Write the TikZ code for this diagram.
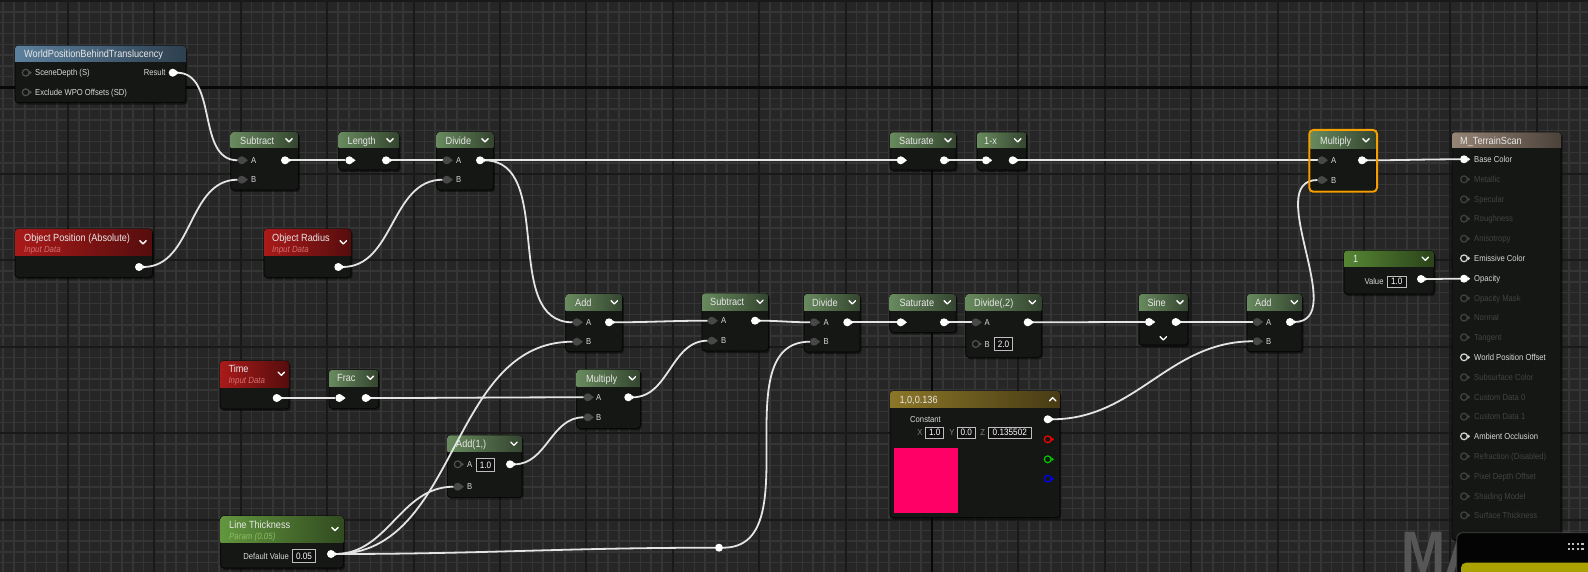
\documentclass[tikz,border=0pt]{standalone}
\usepackage{fontspec}
\setmainfont{Liberation Sans}[FakeStretch=0.88]
\usetikzlibrary{fit,shadows}
\pgfdeclarelayer{bg}
\pgfdeclarelayer{nodes}
\pgfdeclarelayer{wires}
\pgfsetlayers{bg,nodes,wires,main}
\definecolor{bgc}{RGB}{38,38,38}
\definecolor{minorc}{RGB}{53,53,53}
\definecolor{majorc}{RGB}{25,25,25}
\definecolor{axisc}{RGB}{8,8,8}
\definecolor{bodyc}{RGB}{21,23,21}
\definecolor{cMath}{RGB}{104,138,94}
\definecolor{cBlue}{RGB}{92,128,158}
\definecolor{cRed}{RGB}{170,26,26}
\definecolor{cParam}{RGB}{98,150,62}
\definecolor{cConst}{RGB}{86,134,52}
\definecolor{cGold}{RGB}{140,118,40}
\definecolor{cTerm}{RGB}{150,132,116}
\definecolor{wirec}{RGB}{228,228,228}
\definecolor{pinc}{RGB}{72,72,72}
\definecolor{ttlc}{RGB}{232,232,232}
\definecolor{labc}{RGB}{215,215,215}
\definecolor{dimc}{RGB}{80,80,80}
\definecolor{dimc2}{RGB}{66,66,66}
\definecolor{subRed}{RGB}{212,112,112}
\definecolor{subGrn}{RGB}{140,190,100}
\definecolor{selc}{RGB}{245,160,0}
\definecolor{swatch}{RGB}{255,0,102}
\definecolor{popc}{RGB}{4,4,4}
\definecolor{barc}{RGB}{170,162,0}
\definecolor{wmc}{RGB}{86,86,86}
\definecolor{boxc}{RGB}{190,190,190}
\definecolor{boxfill}{RGB}{14,15,14}
\definecolor{xyzc}{RGB}{130,130,130}
\tikzset{
  body/.style={fill=bodyc, draw=black, line width=0.6pt, rounded corners=3pt, inner sep=0pt,
    drop shadow={shadow xshift=1.5pt, shadow yshift=-2pt, opacity=0.45, fill=black}},
  ttl/.style={anchor=west, inner sep=0pt, text=ttlc, font=\fontsize{10.4}{12}\selectfont, text height=7.5pt, text depth=0pt},
  subt/.style={anchor=west, inner sep=0pt, font=\itshape\fontsize{9}{10}\selectfont, text height=6.4pt, text depth=0pt},
  plab/.style={anchor=west, inner sep=0pt, text=labc, font=\fontsize{8.7}{10}\selectfont, text height=6.2pt, text depth=0pt},
  vbox/.style={draw=boxc, line width=0.8pt, fill=boxfill, text=white, font=\fontsize{9.3}{10}\selectfont, inner sep=0pt},
  chevst/.style={draw=white, line width=1.3pt, line cap=round, line join=round},
  pw/.style={circle, fill=white, inner sep=0pt, minimum size=8pt},
  pd/.style={circle, fill=pinc, inner sep=0pt, minimum size=8pt},
  ph/.style={circle, draw=#1, line width=1.2pt, inner sep=0pt, minimum size=6.8pt},
  wire/.style={draw=wirec, line width=1.8pt},
}
\newcommand\uebody[7]{%
  \begin{pgfonlayer}{nodes}
  \node[body, fit={(#2,#3) (#4,#5)}] (#1) {};
  \begin{scope}
  \clip[rounded corners=3pt] (#2,#3) rectangle (#4,#5);
  \shade[left color=#7, right color=#7!50!black] (#2,#3) rectangle (#4,#6);
  \end{scope}
  \end{pgfonlayer}}
\newcommand\chev[2]{\draw[chevst] ({#1-3.2},{#2-1.6}) -- (#1,{#2+1.6}) -- ({#1+3.2},{#2-1.6});}
\newcommand\chevup[2]{\draw[chevst] ({#1-3.2},{#2+1.6}) -- (#1,{#2-1.6}) -- ({#1+3.2},{#2+1.6});}
\newcommand\pout[3]{\node[pw] (#1) at (#2,#3) {};
  \fill[white] ({#2+3.3},{#3-2.3}) -- ({#2+6.2},{#3}) -- ({#2+3.3},{#3+2.3}) -- cycle;}
\newcommand\pind[3]{\node[pd] (#1) at (#2,#3) {};
  \fill[pinc] ({#2+3.3},{#3-2.3}) -- ({#2+6.2},{#3}) -- ({#2+3.3},{#3+2.3}) -- cycle;}
\newcommand\phol[4]{\node[ph=#4] (#1) at (#2,#3) {};
  \fill[#4] ({#2+3.6},{#3-2.2}) -- ({#2+6.2},{#3}) -- ({#2+3.6},{#3+2.2}) -- cycle;}
\begin{document}
\begin{tikzpicture}[x=1pt,y=-1pt]
\useasboundingbox (0,0) rectangle (1588,572);
% ---------------- background grid
\begin{pgfonlayer}{bg}
\fill[bgc] (0,0) rectangle (1588,572);
\foreach \i in {0,...,147} \draw[minorc, line width=1.5pt] ({3.2+10.8*\i},0) -- ({3.2+10.8*\i},572);
\foreach \j in {0,...,53} \draw[minorc, line width=1.5pt] (0,{1.1+10.8*\j}) -- (1588,{1.1+10.8*\j});
\foreach \i in {0,...,18} \draw[majorc, line width=2pt] ({68+86.4*\i},0) -- ({68+86.4*\i},572);
\foreach \j in {0,...,6} \draw[majorc, line width=2pt] (0,{1.1+86.4*\j}) -- (1588,{1.1+86.4*\j});
\draw[axisc, line width=2.5pt] (932,0) -- (932,572);
\draw[axisc, line width=2.5pt] (0,87.5) -- (1588,87.5);
\node[anchor=north west, inner sep=0pt, text=wmc, font=\bfseries\fontsize{60}{60}\selectfont] (wm) at (1401,531.7) {MATERIAL};
\end{pgfonlayer}
% ---------------- WorldPositionBehindTranslucency
\uebody{wpbt}{15}{45.7}{186}{102.7}{61.5}{cBlue}
\node[ttl] (wpbt-t) at (24,53.6) {WorldPositionBehindTranslucency};
\phol{wpbt-sd}{25.7}{72.7}{dimc}
\node[plab] (wpbt-sdl) at (35,72.7) {SceneDepth (S)};
\phol{wpbt-ex}{25.7}{92.3}{dimc}
\node[plab] (wpbt-exl) at (35,92.3) {Exclude WPO Offsets (SD)};
\pout{wpbt-o}{172.7}{72.7}
\node[plab, anchor=east] (wpbt-ol) at (165.7,72.7) {Result};
% ---------------- Subtract (top)
\uebody{sub1}{230.7}{132}{298.3}{190}{148}{cMath}
\node[ttl] (sub1-t) at (240,140.3) {Subtract};
\chev{289}{140.3}
\pind{sub1-a}{241.7}{160.3} \node[plab] (sub1-al) at (251,160.3) {A};
\pind{sub1-b}{241.7}{179.7} \node[plab] (sub1-bl) at (251,179.7) {B};
\pout{sub1-o}{285}{160.3}
% ---------------- Length
\uebody{len}{338.7}{132}{399}{170}{148}{cMath}
\node[ttl] (len-t) at (347.5,140.3) {Length};
\chev{390}{140.3}
\pout{len-i}{349.3}{160.3}
\pout{len-o}{386}{160.3}
% ---------------- Divide (top)
\uebody{div1}{436.7}{132}{493.3}{190}{148}{cMath}
\node[ttl] (div1-t) at (445.5,140.3) {Divide};
\chev{485}{140.3}
\pind{div1-a}{446.7}{160.3} \node[plab] (div1-al) at (456,160.3) {A};
\pind{div1-b}{446.7}{179.7} \node[plab] (div1-bl) at (456,179.7) {B};
\pout{div1-o}{480}{160.3}
% ---------------- Saturate (top)
\uebody{sat1}{890}{132.3}{956}{170}{148}{cMath}
\node[ttl] (sat1-t) at (899,140.3) {Saturate};
\chev{948}{140.3}
\pout{sat1-i}{900.7}{160.3}
\pout{sat1-o}{944}{160.3}
% ---------------- 1-x
\uebody{omx}{977}{132.3}{1026.7}{170}{148}{cMath}
\node[ttl] (omx-t) at (984,140.3) {1-x};
\chev{1017.7}{140.3}
\pout{omx-i}{986}{160.3}
\pout{omx-o}{1012.7}{160.3}
% ---------------- Multiply (top, selected)
\uebody{mul1}{1310.3}{131}{1376}{190.7}{148.3}{cMath}
\draw[selc, line width=2pt, rounded corners=4pt] (1309.3,130) rectangle (1377,191.7);
\node[ttl] (mul1-t) at (1320,140.3) {Multiply};
\chev{1366}{140.3}
\pind{mul1-a}{1321.7}{160.3} \node[plab] (mul1-al) at (1331,160.3) {A};
\pind{mul1-b}{1321.7}{180} \node[plab] (mul1-bl) at (1331,180) {B};
\pout{mul1-o}{1362}{160.3}
% ---------------- M_TerrainScan
\uebody{term}{1452}{132.3}{1561}{540}{148}{cTerm}
\node[ttl] (term-t) at (1460,140.6) {M\_TerrainScan};
\pout{term-base}{1464}{159.3} \node[plab] (term-basel) at (1474,159.3) {Base Color};
\pout{term-opac}{1464}{278.7} \node[plab] (term-opacl) at (1474,278.7) {Opacity};
\foreach \yy/\txt/\nm in {258.3/Emissive Color/emis, 357.3/World Position Offset/wpo, 436.3/Ambient Occlusion/ao}{
  \phol{term-\nm}{1464}{\yy}{labc}
  \node[plab] (term-\nm l) at (1474,\yy) {\txt};
}
\foreach \yy/\txt/\nm in {179.3/Metallic/met, 199.3/Specular/spec, 218.7/Roughness/rough, 238.7/Anisotropy/aniso,
  298.3/Opacity Mask/omask, 317.7/Normal/norm, 337.3/Tangent/tang, 377.3/Subsurface Color/ssc,
  397/Custom Data 0/cd0, 416.7/Custom Data 1/cd1, 456.3/Refraction (Disabled)/refr,
  476.3/Pixel Depth Offset/pdo, 496.3/Shading Model/shm, 515.3/Surface Thickness/sth}{
  \phol{term-\nm}{1464}{\yy}{dimc2}
  \node[plab, text=dimc2] (term-\nm l) at (1474,\yy) {\txt};
}
% ---------------- Object Position (Absolute)
\uebody{objpos}{15}{229}{152.3}{277.3}{256}{cRed}
\node[ttl] (objpos-t) at (24,237.7) {Object Position (Absolute)};
\node[subt, text=subRed] (objpos-s) at (24,249.7) {Input Data};
\chev{143}{242.3}
\pout{objpos-o}{139}{267}
% ---------------- Object Radius
\uebody{objrad}{264}{229}{351}{277.3}{256}{cRed}
\node[ttl] (objrad-t) at (272,237.7) {Object Radius};
\node[subt, text=subRed] (objrad-s) at (272,249.7) {Input Data};
\chev{343.3}{242.3}
\pout{objrad-o}{338.3}{267}
% ---------------- Constant 1
\uebody{cone}{1344}{250.7}{1434}{294}{266.7}{cConst}
\node[ttl] (cone-t) at (1353,258.7) {1};
\chev{1425.3}{258.7}
\node[plab, anchor=east] (cone-vl) at (1383.7,281.5) {Value};
\node[vbox, minimum width=18.7pt, minimum height=11pt] (cone-v) at (1396.7,281.7) {1.0};
\pout{cone-o}{1421}{279}
% ---------------- Add (middle)
\uebody{add1}{565.7}{294}{622.3}{351.7}{310.7}{cMath}
\node[ttl] (add1-t) at (575,302.3) {Add};
\chev{614.3}{302.3}
\pind{add1-a}{576.7}{322.3} \node[plab] (add1-al) at (586,322.3) {A};
\pind{add1-b}{576.7}{341.7} \node[plab] (add1-bl) at (586,341.7) {B};
\pout{add1-o}{609}{322.3}
% ---------------- Subtract (middle)
\uebody{sub2}{702}{293.3}{768.3}{351}{310}{cMath}
\node[ttl] (sub2-t) at (710,301.7) {Subtract};
\chev{760}{301.7}
\pind{sub2-a}{711.7}{320.7} \node[plab] (sub2-al) at (721,320.7) {A};
\pind{sub2-b}{711.7}{340.7} \node[plab] (sub2-bl) at (721,340.7) {B};
\pout{sub2-o}{755}{320.7}
% ---------------- Divide (middle)
\uebody{div2}{804}{294}{860}{352}{310.7}{cMath}
\node[ttl] (div2-t) at (812,302.3) {Divide};
\chev{852.3}{302.3}
\pind{div2-a}{814}{322.3} \node[plab] (div2-al) at (823.5,322.3) {A};
\pind{div2-b}{814}{341.7} \node[plab] (div2-bl) at (823.5,341.7) {B};
\pout{div2-o}{847.3}{322.3}
% ---------------- Saturate (middle)
\uebody{sat2}{889.7}{294}{956}{332.3}{310.7}{cMath}
\node[ttl] (sat2-t) at (899.3,302.3) {Saturate};
\chev{947.3}{302.3}
\pout{sat2-i}{900.7}{322.3}
\pout{sat2-o}{944}{322.3}
% ---------------- Divide(,2)
\uebody{div3}{965.7}{294}{1041.3}{357.3}{310.7}{cMath}
\node[ttl] (div3-t) at (974,302.3) {Divide(,2)};
\chev{1032.3}{302.3}
\pind{div3-a}{975.7}{322.3} \node[plab] (div3-al) at (984.5,322.3) {A};
\phol{div3-b}{975.7}{344}{dimc} \node[plab] (div3-bl) at (984.5,344) {B};
\node[vbox, minimum width=17.6pt, minimum height=12.6pt] (div3-bv) at (1003.5,344) {2.0};
\pout{div3-o}{1027.7}{322.3}
% ---------------- Sine
\uebody{sine}{1139}{294}{1188}{345}{310.7}{cMath}
\node[ttl] (sine-t) at (1147.3,302.3) {Sine};
\chev{1180}{302.3}
\pout{sine-i}{1149}{322}
\pout{sine-o}{1175.7}{322}
\chev{1163.3}{338.3}
% ---------------- Add (right)
\uebody{add3}{1247}{294}{1302}{351.7}{310.7}{cMath}
\node[ttl] (add3-t) at (1255,302.3) {Add};
\chev{1294.3}{302.3}
\pind{add3-a}{1257}{322} \node[plab] (add3-al) at (1266,322) {A};
\pind{add3-b}{1257}{341.3} \node[plab] (add3-bl) at (1266,341.3) {B};
\pout{add3-o}{1290}{322}
% ---------------- Time
\uebody{time}{220}{361}{289}{409}{387.3}{cRed}
\node[ttl] (time-t) at (228.3,369) {Time};
\node[subt, text=subRed] (time-s) at (228.3,380.3) {Input Data};
\chev{281.3}{373.7}
\pout{time-o}{276.7}{398}
% ---------------- Frac
\uebody{frac}{329}{370}{378.3}{408.3}{386}{cMath}
\node[ttl] (frac-t) at (337,378) {Frac};
\chev{370.3}{377.7}
\pout{frac-i}{339.3}{398}
\pout{frac-o}{365.7}{398}
% ---------------- Multiply (middle)
\uebody{mul2}{576.7}{369.7}{640.3}{428.3}{386}{cMath}
\node[ttl] (mul2-t) at (586,378.3) {Multiply};
\chev{632.3}{378.3}
\pind{mul2-a}{587.7}{397.3} \node[plab] (mul2-al) at (596,397.3) {A};
\pind{mul2-b}{587.7}{417.3} \node[plab] (mul2-bl) at (596,417.3) {B};
\pout{mul2-o}{628.3}{397.3}
% ---------------- Add(1,)
\uebody{add2}{447.3}{435.3}{522}{497.3}{451.3}{cMath}
\node[ttl] (add2-t) at (456,443.7) {Add(1,)};
\chev{514}{443.7}
\phol{add2-a}{457.7}{464.3}{dimc} \node[plab] (add2-al) at (467,464.3) {A};
\node[vbox, minimum width=18.4pt, minimum height=12.6pt] (add2-av) at (485.5,465) {1.0};
\pind{add2-b}{457.7}{486.7} \node[plab] (add2-bl) at (467,486.7) {B};
\pout{add2-o}{510}{464.3}
% ---------------- Constant vector
\uebody{vec}{890}{391}{1060}{517.7}{407.7}{cGold}
\node[ttl] (vec-t) at (899.3,399.3) {1,0,0.136};
\chevup{1052.7}{399.3}
\node[plab] (vec-c) at (910,419.3) {Constant};
\node[plab, anchor=center, text=xyzc] (vec-xl) at (920,432.7) {X};
\node[vbox, minimum width=18pt, minimum height=11.3pt] (vec-x) at (934.7,432.7) {1.0};
\node[plab, anchor=center, text=xyzc] (vec-yl) at (952,432.7) {Y};
\node[vbox, minimum width=18.7pt, minimum height=11.3pt] (vec-y) at (966.3,432.7) {0.0};
\node[plab, anchor=center, text=xyzc] (vec-zl) at (982.7,432.7) {Z};
\node[vbox, minimum width=43pt, minimum height=11.3pt] (vec-z) at (1009.8,432.7) {0.135502};
\fill[swatch] (894,448) rectangle (957.7,512.7);
\pout{vec-o}{1047.7}{419.3}
\phol{vec-r}{1047.7}{439.3}{red}
\phol{vec-g}{1047.7}{459.3}{green!80!black}
\phol{vec-b}{1047.7}{478.7}{blue}
% ---------------- Line Thickness
\uebody{lt}{220.7}{516}{343.3}{568}{542.7}{cParam}
\node[ttl] (lt-t) at (229,524.7) {Line Thickness};
\node[subt, text=subGrn] (lt-s) at (229,536.3) {Param (0.05)};
\chev{335}{529}
\node[plab, anchor=east] (lt-dl) at (289,556.3) {Default Value};
\node[vbox, minimum width=23.4pt, minimum height=13.4pt] (lt-dv) at (304,556) {0.05};
\pout{lt-o}{331}{554}
% ---------------- reroute
\node[pw] (rr) at (719,547.7) {};
% ---------------- wires
\begin{pgfonlayer}{wires}
\draw[wire] (wpbt-o) to[out=0,in=180] (sub1-a);
\draw[wire] (objpos-o) to[out=0,in=180] (sub1-b);
\draw[wire] (sub1-o) to[out=0,in=180] (len-i);
\draw[wire] (len-o) to[out=0,in=180] (div1-a);
\draw[wire] (objrad-o) to[out=0,in=180] (div1-b);
\draw[wire] (div1-o) to[out=0,in=180] (sat1-i);
\draw[wire] (div1-o) to[out=0,in=180] (add1-a);
\draw[wire] (sat1-o) to[out=0,in=180] (omx-i);
\draw[wire] (omx-o) to[out=0,in=180] (mul1-a);
\draw[wire] (mul1-o) to[out=0,in=180] (term-base);
\draw[wire] (add3-o) to[out=0,in=180] (mul1-b);
\draw[wire] (cone-o) to[out=0,in=180] (term-opac);
\draw[wire] (add1-o) to[out=0,in=180] (sub2-a);
\draw[wire] (mul2-o) to[out=0,in=180] (sub2-b);
\draw[wire] (time-o) to[out=0,in=180] (frac-i);
\draw[wire] (frac-o) to[out=0,in=180] (mul2-a);
\draw[wire] (add2-o) to[out=0,in=180] (mul2-b);
\draw[wire] (lt-o) to[out=0,in=180] (add1-b);
\draw[wire] (lt-o) to[out=0,in=180] (add2-b);
\draw[wire] (lt-o) to[out=0,in=180] (rr);
\draw[wire] (rr) to[out=0,in=180] (div2-b);
\draw[wire] (sub2-o) to[out=0,in=180] (div2-a);
\draw[wire] (div2-o) to[out=0,in=180] (sat2-i);
\draw[wire] (sat2-o) to[out=0,in=180] (div3-a);
\draw[wire] (div3-o) to[out=0,in=180] (sine-i);
\draw[wire] (sine-o) to[out=0,in=180] (add3-a);
\draw[wire] (vec-o) to[out=0,in=180] (add3-b);
\end{pgfonlayer}
% ---------------- popup in the corner
\filldraw[fill=popc, draw={rgb,255:red,70;green,70;blue,70}, line width=0.8pt, rounded corners=6pt] (1456.7,532.7) rectangle (1600,600);
\fill[barc, rounded corners=5pt] (1461,562.7) rectangle (1600,600);
\foreach \dx in {0,1,2,3} \foreach \dy in {0,1} \fill[black!25] ({1567.5+4.6*\dx},{543+4.6*\dy}) rectangle ++(2.2,2.2);
\end{tikzpicture}
\end{document}
